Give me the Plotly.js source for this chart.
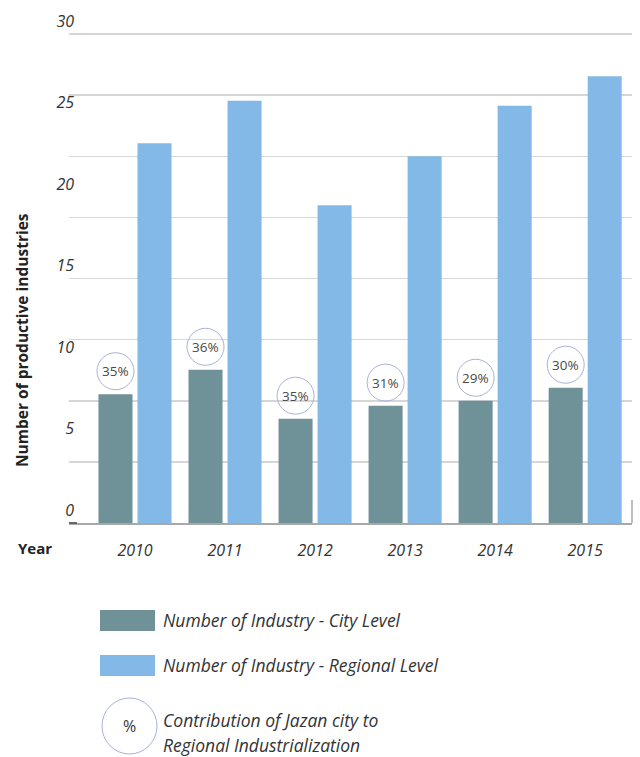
<!DOCTYPE html>
<html>
<head>
<meta charset="utf-8">
<script src="https://cdn.plot.ly/plotly-3.0.1.min.js"></script>
<style>
  html, body { margin: 0; padding: 0; background: #ffffff; }
  #chart { width: 640px; height: 757px; }
</style>
</head>
<body>
<div id="chart"></div>
<script>
// ---- data ----
const YEARS = ['2010', '2011', '2012', '2013', '2014', '2015'];
const CITY = [7.9, 9.4, 6.4, 7.2, 7.5, 8.3];          // Number of Industry - City Level
const REGIONAL = [23.3, 25.9, 19.5, 22.5, 25.6, 27.4]; // Number of Industry - Regional Level
const SHARE = ['35%', '36%', '35%', '31%', '29%', '30%']; // Contribution of Jazan city
const Y_TICKS = [0, 5, 10, 15, 20, 25, 30];
const SERIES_NAMES = ['Number of Industry - City Level', 'Number of Industry - Regional Level'];
const CONTRIB_LINES = ['Contribution of Jazan city to', 'Regional Industrialization'];

// ---- styling ----
const CITY_COLOR = '#6f9198';
const REG_COLOR = '#82b9e6';
const CIRCLE_COLOR = '#aab1da';
const TEXT = '#333333';
const FONT = 'Open Sans, Noto Sans, sans-serif';

const W = 640, H = 757;
const M = { l: 69, r: 8, t: 30, b: 234 };
const Y_RANGE = [0, 30.245];
const PW = W - M.l - M.r, PH = H - M.t - M.b;
const px = x => (x - M.l) / PW;
const py = y => (H - M.b - y) / PH;

const traces = [
  { type: 'bar', name: SERIES_NAMES[0], x: YEARS, y: CITY, marker: { color: CITY_COLOR }, hoverinfo: 'x+y' },
  { type: 'bar', name: SERIES_NAMES[1], x: YEARS, y: REGIONAL, marker: { color: REG_COLOR }, hoverinfo: 'x+y' },
  { type: 'scatter', x: [YEARS[0]], y: [Y_TICKS[0]], yaxis: 'y2', mode: 'markers',
    marker: { opacity: 0 }, hoverinfo: 'skip', showlegend: false }
];

const shapes = [];
const annotations = [];
const BAR_OFF = -19.5, R = 18.5, LIFT = 23;

YEARS.forEach((yr, i) => {
  // category axis: use the category index as the data coordinate
  shapes.push({
    type: 'circle', xref: 'x', yref: 'y', xsizemode: 'pixel', ysizemode: 'pixel',
    xanchor: i, yanchor: CITY[i],
    x0: BAR_OFF - R, x1: BAR_OFF + R, y0: LIFT - R, y1: LIFT + R,
    line: { color: CIRCLE_COLOR, width: 1 }, fillcolor: 'rgba(255,255,255,0)'
  });
  annotations.push({
    xref: 'x', yref: 'y', x: i, y: CITY[i], xshift: BAR_OFF, yshift: LIFT,
    text: SHARE[i], showarrow: false, xanchor: 'center', yanchor: 'middle',
    font: { family: FONT, size: 13.5, color: '#4a4a4a' }
  });
});

// axis decorations
shapes.push({ type: 'line', xref: 'paper', yref: 'paper', x0: 1, x1: 1, y0: py(500), y1: 0,
  line: { color: '#a8a8a8', width: 1.5 } });
shapes.push({ type: 'line', xref: 'paper', yref: 'paper', x0: 0, x1: px(77), y0: 0, y1: 0,
  line: { color: '#666', width: 2 } });

// custom legend
shapes.push({ type: 'rect', xref: 'paper', yref: 'paper', x0: px(100), x1: px(155), y0: py(631), y1: py(610),
  fillcolor: CITY_COLOR, line: { width: 0 } });
shapes.push({ type: 'rect', xref: 'paper', yref: 'paper', x0: px(100), x1: px(155), y0: py(676), y1: py(655),
  fillcolor: REG_COLOR, line: { width: 0 } });
shapes.push({ type: 'circle', xref: 'paper', yref: 'paper', x0: px(102), x1: px(157), y0: py(754), y1: py(698),
  line: { color: CIRCLE_COLOR, width: 1 }, fillcolor: 'rgba(255,255,255,0)' });

const legFont = { family: FONT, size: 17.5, color: TEXT, style: 'italic' };
annotations.push({ xref: 'paper', yref: 'paper', x: px(161), y: py(620), xanchor: 'left', yanchor: 'middle',
  text: SERIES_NAMES[0], showarrow: false, font: legFont });
annotations.push({ xref: 'paper', yref: 'paper', x: px(161), y: py(665), xanchor: 'left', yanchor: 'middle',
  text: SERIES_NAMES[1], showarrow: false, font: legFont });
annotations.push({ xref: 'paper', yref: 'paper', x: px(161), y: py(720), xanchor: 'left', yanchor: 'middle',
  text: CONTRIB_LINES[0], showarrow: false, font: legFont });
annotations.push({ xref: 'paper', yref: 'paper', x: px(161), y: py(745), xanchor: 'left', yanchor: 'middle',
  text: CONTRIB_LINES[1], showarrow: false, font: legFont });
annotations.push({ xref: 'paper', yref: 'paper', x: px(129.5), y: py(726), xanchor: 'center', yanchor: 'middle',
  text: '%', showarrow: false, font: { family: FONT, size: 16, color: TEXT } });

// axis titles
annotations.push({ xref: 'paper', yref: 'paper', x: px(16), y: py(548), xanchor: 'left', yanchor: 'middle',
  text: '<b>Year</b>', showarrow: false, font: { family: FONT, size: 15, color: '#222' } });
annotations.push({ xref: 'paper', yref: 'paper', x: px(22), y: py(340), xanchor: 'center', yanchor: 'middle',
  textangle: -90, text: '<b>Number of productive industries</b>', showarrow: false,
  font: { family: FONT, size: 15.5, color: '#222' } });

const tickFont = { family: FONT, size: 16, color: TEXT, style: 'italic' };

const layout = {
  width: W, height: H,
  margin: M,
  paper_bgcolor: '#ffffff', plot_bgcolor: '#ffffff',
  showlegend: false,
  barmode: 'group', bargap: 0.133, bargroupgap: 0.128,
  xaxis: {
    type: 'category', range: [-0.733, 5.52], showgrid: false, zeroline: false,
    showline: true, linecolor: '#a8a8a8', linewidth: 2, ticks: '',
    ticklabelstandoff: 12, tickfont: tickFont, fixedrange: true
  },
  yaxis: {
    range: Y_RANGE, tickmode: 'linear', tick0: 0, dtick: 3.75,
    showgrid: true, gridcolor: '#d6d6d6', gridwidth: 1.5,
    showticklabels: false, zeroline: false, showline: false, ticks: '', fixedrange: true
  },
  yaxis2: {
    overlaying: 'y', anchor: 'free', position: px(74), side: 'left',
    range: Y_RANGE, tickmode: 'array', tickvals: Y_TICKS, ticktext: Y_TICKS.map(String),
    showgrid: false, zeroline: false, showline: false, ticks: '',
    ticklabelshift: -13, tickfont: tickFont, fixedrange: true
  },
  shapes: shapes,
  annotations: annotations
};

Plotly.newPlot('chart', traces, layout, { displayModeBar: false, staticPlot: true });
</script>
</body>
</html>
